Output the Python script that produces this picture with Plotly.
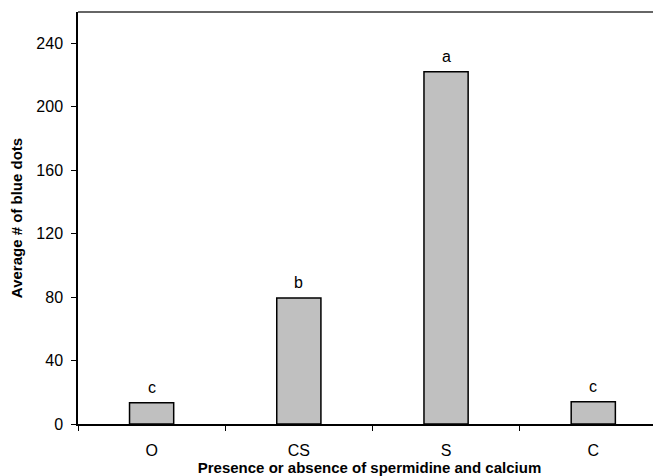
import plotly.graph_objects as go

categories = ["O", "CS", "S", "C"]
values = [13.4, 79.4, 222.0, 14.1]
letters = ["c", "b", "a", "c"]
y_ticks = [0, 40, 80, 120, 160, 200, 240]

FONT = "Liberation Sans, Arial, sans-serif"

fig = go.Figure()
fig.add_trace(go.Bar(
    x=categories, y=values, width=0.3,
    marker=dict(color="#c0c0c0", line=dict(color="black", width=1.5)),
    showlegend=False, hoverinfo="skip",
))

for c, v, t in zip(categories, values, letters):
    fig.add_annotation(x=c, y=v, text=t, showarrow=False, yanchor="bottom",
                       yshift=5, font=dict(family=FONT, size=16, color="black"))

# page body adds an 8px offset; size the figure so it ends at the window edge
fig.update_layout(
    width=653, height=468,
    margin=dict(l=70, r=0, t=4, b=52, autoexpand=False),
    plot_bgcolor="white", paper_bgcolor="white",
    font=dict(family=FONT, size=16, color="black"),
    xaxis=dict(
        type="category", range=[-0.5, 3.46],
        showline=True, linecolor="black", linewidth=1.5,
        ticks="outside", tickson="boundaries", ticklen=5, tickcolor="black", tickwidth=1,
        showgrid=False, zeroline=False,
        tickfont=dict(family=FONT, size=16),
        ticklabelstandoff=11,
        title=dict(text="<b>Presence or absence of spermidine and calcium</b>",
                   font=dict(family=FONT, size=15), standoff=1),
    ),
    yaxis=dict(
        range=[0, 259.7], tickvals=y_ticks,
        showline=True, linecolor="black", linewidth=1.5,
        ticks="outside", ticklen=5, tickcolor="black", tickwidth=1,
        showgrid=False, zeroline=False,
        tickfont=dict(family=FONT, size=16),
        ticklabelstandoff=5,
        title=dict(text="<b>Average # of blue dots</b>",
                   font=dict(family=FONT, size=15), standoff=10),
    ),
)

fig.add_shape(type="line", xref="paper", yref="paper", x0=0, x1=1, y0=1, y1=1,
              line=dict(color="#666666", width=2))

fig.write_html("out.html")
